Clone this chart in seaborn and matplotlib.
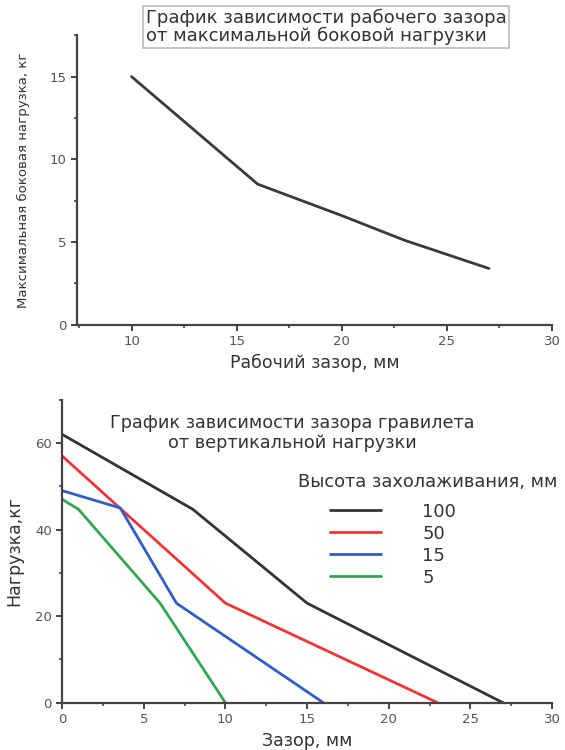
import pandas as pd
import matplotlib.pyplot as plt
import seaborn as sns
from matplotlib.ticker import MultipleLocator

# -------------------------------
# Data
# -------------------------------
gap_top = [10, 16, 20, 23, 27]
side_load = [15, 8.5, 6.6, 5.1, 3.4]

heights = ["100", "50", "15", "5"]
gap_100 = [0, 8, 15, 27]
load_100 = [62, 44.7, 23, 0]
gap_50 = [0, 10, 23]
load_50 = [57, 23, 0]
gap_15 = [0, 3.56, 7, 16]
load_15 = [49, 45, 23, 0]
gap_5 = [0, 1, 6, 10]
load_5 = [47, 44.7, 23, 0]

colors = ["#333333", "#f03535", "#2f5ec4", "#35a552"]

sns.set_style("ticks")
plt.rcParams['font.family'] = ['DejaVu Sans']
txt = "#333333"

fig = plt.figure(figsize=(5.65, 7.5), dpi=100)
ax1 = fig.add_axes([0.136, 0.567, 0.841, 0.386])
ax2 = fig.add_axes([0.110, 0.063, 0.867, 0.404])


def style_axes(ax):
    sns.despine(ax=ax)
    for s in ("left", "bottom"):
        ax.spines[s].set_color("#444444")
        ax.spines[s].set_linewidth(1.6)
    ax.tick_params(which="major", direction="out", length=4, width=1.4,
                   color="#444444", labelsize=9.5, labelcolor="#555555")
    ax.tick_params(which="minor", direction="out", length=2.5, width=1.2,
                   color="#444444")


# -------------------------------
# Top chart
# -------------------------------
df_top = pd.DataFrame({"gap": gap_top, "load": side_load})
sns.lineplot(data=df_top, x="gap", y="load", ax=ax1, color="#3a3a3a",
             linewidth=2, sort=False)
ax1.set_xlim(7.4, 30)
ax1.set_ylim(0, 17.5)
ax1.xaxis.set_major_locator(MultipleLocator(5))
ax1.xaxis.set_minor_locator(MultipleLocator(2.5))
ax1.yaxis.set_major_locator(MultipleLocator(5))
ax1.yaxis.set_minor_locator(MultipleLocator(2.5))
style_axes(ax1)
ax1.set_xlabel("Рабочий зазор, мм", fontsize=12.5, color=txt, labelpad=4)
ax1.set_ylabel("Максимальная боковая нагрузка, кг", fontsize=9.5, color=txt,
               labelpad=14)
fig.text(0.258, 0.964, "График зависимости рабочего зазора\nот максимальной боковой нагрузки",
         fontsize=13, color=txt, ha="left", va="center", linespacing=1.0,
         bbox=dict(facecolor="white", edgecolor="#bbbbbb", linewidth=1.2,
                   boxstyle="square,pad=0.15"))

# -------------------------------
# Bottom chart
# -------------------------------
rows = []
for h, gx, ly in zip(heights, [gap_100, gap_50, gap_15, gap_5],
                     [load_100, load_50, load_15, load_5]):
    for g, l in zip(gx, ly):
        rows.append({"gap": g, "load": l, "height": h})
df_bot = pd.DataFrame(rows)

sns.lineplot(data=df_bot, x="gap", y="load", hue="height", hue_order=heights,
             palette=colors, linewidth=2, sort=False, ax=ax2)
ax2.set_xlim(0, 30)
ax2.set_ylim(0, 70)
ax2.xaxis.set_major_locator(MultipleLocator(5))
ax2.xaxis.set_minor_locator(MultipleLocator(2.5))
ax2.yaxis.set_major_locator(MultipleLocator(20))
ax2.yaxis.set_minor_locator(MultipleLocator(10))
style_axes(ax2)
ax2.set_xlabel("Зазор, мм", fontsize=12.5, color=txt, labelpad=4)
ax2.set_ylabel("Нагрузка,кг", fontsize=12.5, color=txt, labelpad=8)
ax2.text(0.47, 0.89, "График зависимости зазора гравилета\nот вертикальной нагрузки",
         transform=ax2.transAxes, ha="center", va="center", fontsize=12.7,
         color=txt, linespacing=1.15)
ax2.text(0.482, 0.729, "Высота захолаживания, мм", transform=ax2.transAxes,
         ha="left", va="center", fontsize=12.8, color=txt)

leg = ax2.legend(loc="upper left", bbox_to_anchor=(0.529, 0.69),
                 frameon=False, fontsize=13, borderpad=0, handlelength=2.8,
                 handletextpad=2.3, labelspacing=0.22)
for t in leg.get_texts():
    t.set_color(txt)

fig.savefig("out.png", dpi=100)
